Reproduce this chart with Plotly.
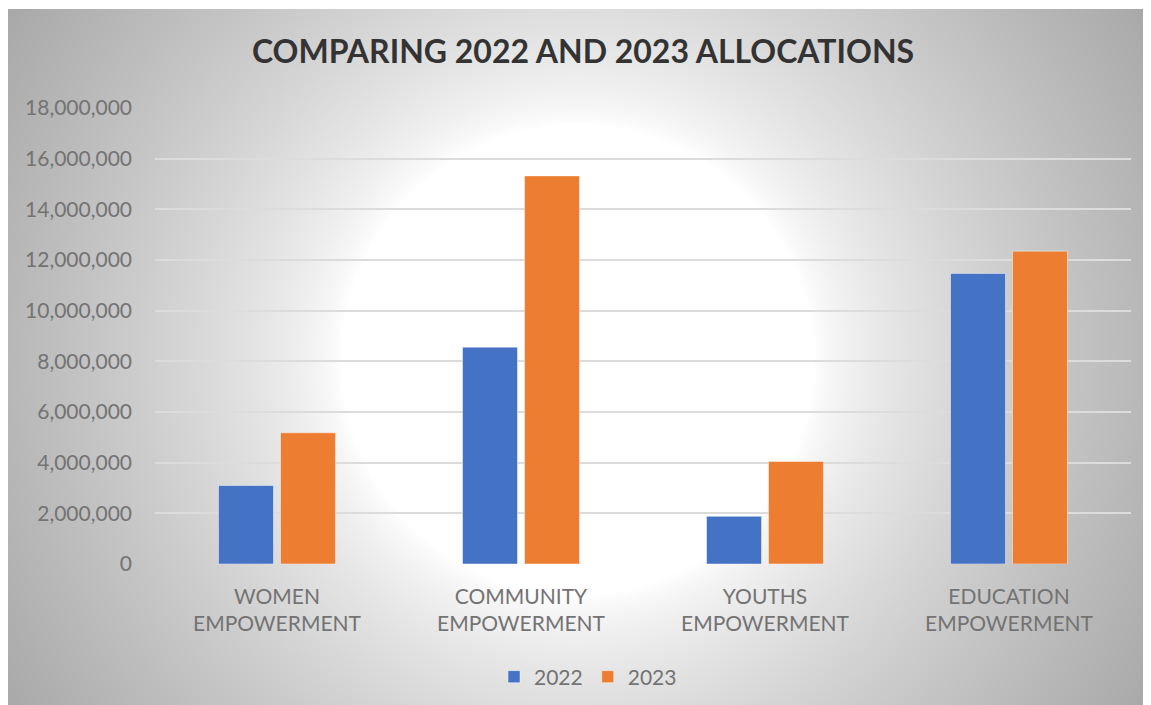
import base64
import struct
import zlib

import numpy as np
import plotly.graph_objects as go

# ---------------- data ----------------
categories = ["WOMEN<br>EMPOWERMENT", "COMMUNITY<br>EMPOWERMENT",
              "YOUTHS<br>EMPOWERMENT", "EDUCATION<br>EMPOWERMENT"]
values_2022 = [3100000, 8560000, 1880000, 11470000]
values_2023 = [5180000, 15320000, 4050000, 12350000]
series_names = ["2022", "2023"]
y_tickvals = [0, 2000000, 4000000, 6000000, 8000000, 10000000,
              12000000, 14000000, 16000000, 18000000]
y_ticktext = ["0", "2,000,000", "4,000,000", "6,000,000", "8,000,000",
              "10,000,000", "12,000,000", "14,000,000", "16,000,000", "18,000,000"]
title_text = "COMPARING 2022 AND 2023 ALLOCATIONS"

# ---------------- layout geometry (page pixels, minus 8px body margin) ----------------
OFF = 8
W, H = 1151, 705
PL, PR, PT, PB = 155 - OFF, 1131 - OFF, 108 - OFF, 564 - OFF   # plot area
BG_X0, BG_Y0, BG_X1, BG_Y1 = 0, 1, W, H  # gray chart area
CX, CY = 577.0 - OFF, 360.0 - OFF


def radial_png():
    scale = 2
    w = (BG_X1 - BG_X0) // scale
    h = (BG_Y1 - BG_Y0) // scale
    jj, ii = np.meshgrid(np.arange(w), np.arange(h))
    px = BG_X0 + (jj + 0.5) * scale
    py = BG_Y0 + (ii + 0.5) * scale
    r = np.sqrt((px - CX) ** 2 + (py - CY) ** 2)
    r0, r1 = 237.0, 669.0
    t = np.clip((r - r0) / (r1 - r0), 0, 1.2)
    val = 255.0 - 86.0 * np.power(t, 0.72)
    arr = np.clip(val, 0, 255).astype(np.uint8)
    raw = b"".join(b"\x00" + arr[k].tobytes() for k in range(h))

    def chunk(tag, data):
        c = struct.pack(">I", len(data)) + tag + data
        return c + struct.pack(">I", zlib.crc32(tag + data) & 0xFFFFFFFF)

    png = b"\x89PNG\r\n\x1a\n"
    png += chunk(b"IHDR", struct.pack(">IIBBBBB", w, h, 8, 0, 0, 0, 0))
    png += chunk(b"IDAT", zlib.compress(raw, 9))
    png += chunk(b"IEND", b"")
    return "data:image/png;base64," + base64.b64encode(png).decode()


pw = PR - PL
ph = PB - PT


def to_paper_x(px):
    return (px - PL) / pw


def to_paper_y(py):
    return (PB - py) / ph


FONT = "Lato, 'Open Sans', sans-serif"
TEXT_GRAY = "#737373"

fig = go.Figure()
colors = ["#4472C4", "#ED7D31"]
for name, vals, col in zip(series_names, [values_2022, values_2023], colors):
    fig.add_trace(go.Bar(
        x=categories, y=vals, name=name,
        marker=dict(color=col, line=dict(color="rgba(255,255,255,0.45)", width=1)),
        hoverinfo="x+y+name",
    ))

fig.update_layout(
    width=W, height=H,
    margin=dict(l=PL, r=W - PR, t=PT, b=H - PB, autoexpand=False),
    paper_bgcolor="white",
    plot_bgcolor="rgba(0,0,0,0)",
    barmode="group",
    bargap=0.492,
    bargroupgap=0.113,
    font=dict(family=FONT, color=TEXT_GRAY, size=21),
    title=dict(
        text="<b>" + title_text + "</b>",
        x=(583 - OFF) / W, xanchor="center", xref="container",
        y=1 - (52 - OFF) / H, yanchor="middle", yref="container",
        font=dict(family=FONT, size=32, color="#333333"),
    ),
    legend=dict(
        orientation="h", x=to_paper_x(588 - OFF), xanchor="center",
        y=to_paper_y(677 - OFF), yanchor="middle",
        font=dict(family=FONT, size=21, color=TEXT_GRAY),
        bgcolor="rgba(0,0,0,0)", itemwidth=30, traceorder="normal",
    ),
    xaxis=dict(
        showgrid=False, showline=False, zeroline=False, ticks="",
        tickfont=dict(family=FONT, size=21, color=TEXT_GRAY),
        ticklabelstandoff=18,
        fixedrange=True,
    ),
    yaxis=dict(
        range=[0, 18000000], tickvals=y_tickvals, ticktext=y_ticktext,
        showgrid=True, gridcolor="#dcdcdc", gridwidth=2,
        zeroline=False, showline=False, ticks="",
        tickfont=dict(family=FONT, size=21, color=TEXT_GRAY),
        ticklabelstandoff=22,
        fixedrange=True,
    ),
    images=[dict(
        source=radial_png(), xref="paper", yref="paper",
        x=to_paper_x(BG_X0), y=to_paper_y(BG_Y0),
        sizex=(BG_X1 - BG_X0) / pw, sizey=(BG_Y1 - BG_Y0) / ph,
        sizing="stretch", xanchor="left", yanchor="top", layer="below",
    )],
)

fig.write_html("out.html")
